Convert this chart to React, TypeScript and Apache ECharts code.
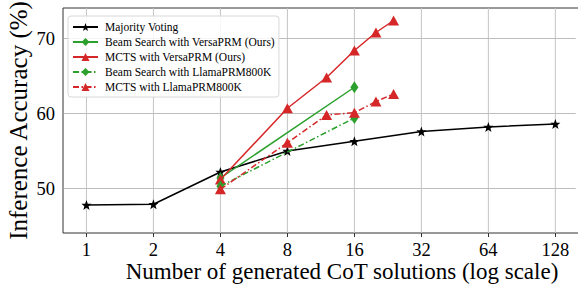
import React, { useEffect, useRef } from "react";
import * as echarts from "echarts";

// ---- data ----
const majorityN = [1, 2, 4, 8, 16, 32, 64, 128];
const majorityAcc = [47.8, 47.9, 52.2, 55.0, 56.3, 57.6, 58.2, 58.6];
const beamN = [4, 16];
const beamVersaAcc = [51.4, 63.5];
const beamLlamaAcc = [50.3, 59.4];
const mctsN = [4, 8, 12, 16, 20, 24];
const mctsVersaAcc = [51.2, 60.7, 64.8, 68.4, 70.8, 72.4];
const mctsLlamaAcc = [49.9, 56.1, 59.8, 60.1, 61.6, 62.6];
const xTickN = [1, 2, 4, 8, 16, 32, 64, 128];
const yTicks = [50, 60, 70];

const seriesNames = [
  "Majority Voting",
  "Beam Search with VersaPRM (Ours)",
  "MCTS with VersaPRM (Ours)",
  "Beam Search with LlamaPRM800K",
  "MCTS with LlamaPRM800K",
];

const FONT = "Liberation Serif";
const BLACK = "#000000";
const GREEN = "#2ca02c";
const RED = "#d62728";
const X_MIN = -0.35;
const X_MAX = 7.98;
const X_VISIBLE_MAX = 7.3;
const Y_MIN = 44.0667;
const Y_MAX = 74.0667;
const HGRID = "#bdbdbd";
const VGRID = "#c4c4c4";

function starPath(): string {
  const pts: string[] = [];
  for (let i = 0; i < 10; i++) {
    const a = ((-90 + 36 * i) * Math.PI) / 180;
    const r = i % 2 === 0 ? 1 : 0.42;
    pts.push(`${(r * Math.cos(a)).toFixed(3)} ${(r * Math.sin(a)).toFixed(3)}`);
  }
  return "path://M" + pts.join(" L") + " Z";
}

const toXY = (ns: number[], vs: number[]) => ns.map((n, i) => [Math.log2(n), vs[i]]);

export default function App() {
  const ref = useRef<HTMLDivElement>(null);
  useEffect(() => {
    if (!ref.current) return;
    const chart = echarts.init(ref.current, undefined, { renderer: "svg" });
    const star = starPath();
    const dashDot = [6, 2.5, 1.5, 2.5];
    const gridSeries = [
      ...xTickN.map((n) => ({
        type: "line",
        name: "vgrid" + n,
        data: [
          [Math.log2(n), Y_MIN],
          [Math.log2(n), Y_MAX],
        ],
        symbol: "none",
        showSymbol: false,
        clip: false,
        silent: true,
        itemStyle: { color: VGRID },
        lineStyle: { color: VGRID, width: 1, opacity: 1 },
        z: 2,
      })),
      ...yTicks.map((v) => ({
        type: "line",
        name: "hgrid" + v,
        data: [
          [X_MIN + 0.01, v],
          [X_VISIBLE_MAX, v],
        ],
        symbol: "none",
        showSymbol: false,
        clip: false,
        silent: true,
        itemStyle: { color: HGRID },
        lineStyle: { color: HGRID, width: 1, opacity: 1 },
        z: 2,
      })),
    ];
    const option: any = {
      animation: false,
      backgroundColor: "#ffffff",
      grid: {
        left: 63,
        right: -43,
        top: 8,
        bottom: 51,
        outerBoundsMode: "none",
        containLabel: false,
        show: true,
        borderColor: "#333333",
        borderWidth: 1,
      },
      xAxis: {
        type: "value",
        min: X_MIN,
        max: X_MAX,
        name: "Number of generated CoT solutions (log scale)",
        nameLocation: "middle",
        nameGap: 27,
        nameMoveOverlap: false,
        nameTextStyle: { fontFamily: FONT, fontSize: 23, lineHeight: 22, color: "#000" },
        axisLine: { show: false },
        axisTick: {
          show: true,
          length: 4,
          customValues: xTickN.map((n) => Math.log2(n)),
          lineStyle: { color: "#333" },
        },
        axisLabel: {
          customValues: xTickN.map((n) => Math.log2(n)),
          formatter: (v: number) => String(Math.round(Math.pow(2, v))),
          fontFamily: FONT,
          fontSize: 18.5,
          lineHeight: 18,
          color: "#000",
          margin: 8,
        },
        splitLine: { show: false },
      },
      yAxis: {
        type: "value",
        min: Y_MIN,
        max: Y_MAX,
        name: "Inference Accuracy (%)",
        nameLocation: "middle",
        nameGap: 32,
        nameMoveOverlap: false,
        nameTextStyle: { fontFamily: FONT, fontSize: 25, color: "#000" },
        axisLine: { show: false },
        axisTick: {
          show: true,
          length: 4,
          customValues: yTicks,
          lineStyle: { color: "#333" },
        },
        axisLabel: {
          customValues: yTicks,
          fontFamily: FONT,
          fontSize: 18.5,
          color: "#000",
          margin: 8,
        },
        splitLine: { show: false },
      },
      legend: {
        orient: "vertical",
        left: 68,
        top: 16,
        z: 10,
        data: seriesNames,
        itemWidth: 25,
        itemHeight: 10,
        itemGap: 1,
        padding: [4, 4, 3, 4],
        backgroundColor: "rgba(255,255,255,0.85)",
        borderColor: "#d8d8d8",
        borderWidth: 1,
        borderRadius: 3,
        textStyle: { fontFamily: FONT, fontSize: 11.5, color: "#000", lineHeight: 14, padding: [0, 0, 0, 2] },
      },
      series: [
        ...gridSeries,
        {
          type: "line",
          name: seriesNames[0],
          data: toXY(majorityN, majorityAcc),
          symbol: star,
          symbolSize: 10,
          color: BLACK,
          itemStyle: { color: BLACK },
          lineStyle: { color: BLACK, width: 1.5 },
          z: 3,
        },
        {
          type: "line",
          name: seriesNames[1],
          data: toXY(beamN, beamVersaAcc),
          symbol: "diamond",
          symbolSize: [8, 12],
          color: GREEN,
          itemStyle: { color: GREEN },
          lineStyle: { color: GREEN, width: 1.5 },
          z: 4,
        },
        {
          type: "line",
          name: seriesNames[2],
          data: toXY(mctsN, mctsVersaAcc),
          symbol: "triangle",
          symbolSize: [11, 10],
          color: RED,
          itemStyle: { color: RED },
          lineStyle: { color: RED, width: 1.5 },
          z: 5,
        },
        {
          type: "line",
          name: seriesNames[3],
          data: toXY(beamN, beamLlamaAcc),
          symbol: "diamond",
          symbolSize: [8, 12],
          color: GREEN,
          itemStyle: { color: GREEN },
          lineStyle: { color: GREEN, width: 1.5, type: dashDot },
          z: 6,
        },
        {
          type: "line",
          name: seriesNames[4],
          data: toXY(mctsN, mctsLlamaAcc),
          symbol: "triangle",
          symbolSize: [11, 10],
          color: RED,
          itemStyle: { color: RED },
          lineStyle: { color: RED, width: 1.5, type: dashDot },
          z: 7,
        },
      ],
    };
    chart.setOption(option);
    // horizontal grid lines placed through the library's own scale
    try {
      const hLines = yTicks.map((v) => {
        const p0 = chart.convertToPixel({ gridIndex: 0 } as any, [X_MIN, v]) as number[];
        const p1 = chart.convertToPixel({ gridIndex: 0 } as any, [X_VISIBLE_MAX, v]) as number[];
        const y = Math.round(p0[1] - 0.5) + 0.5;
        return {
          type: "line",
          silent: true,
          z: 2,
          shape: { x1: p0[0] + 1, y1: y, x2: p1[0], y2: y },
          style: { stroke: HGRID, lineWidth: 1 },
        };
      });
      chart.setOption({ graphic: hLines });
    } catch (e) {
      // ignore
    }
    return () => chart.dispose();
  }, []);
  return (
    <div
      ref={ref}
      style={{ position: "fixed", left: 0, top: 0, width: 578, height: 284, background: "#fff" }}
    />
  );
}
